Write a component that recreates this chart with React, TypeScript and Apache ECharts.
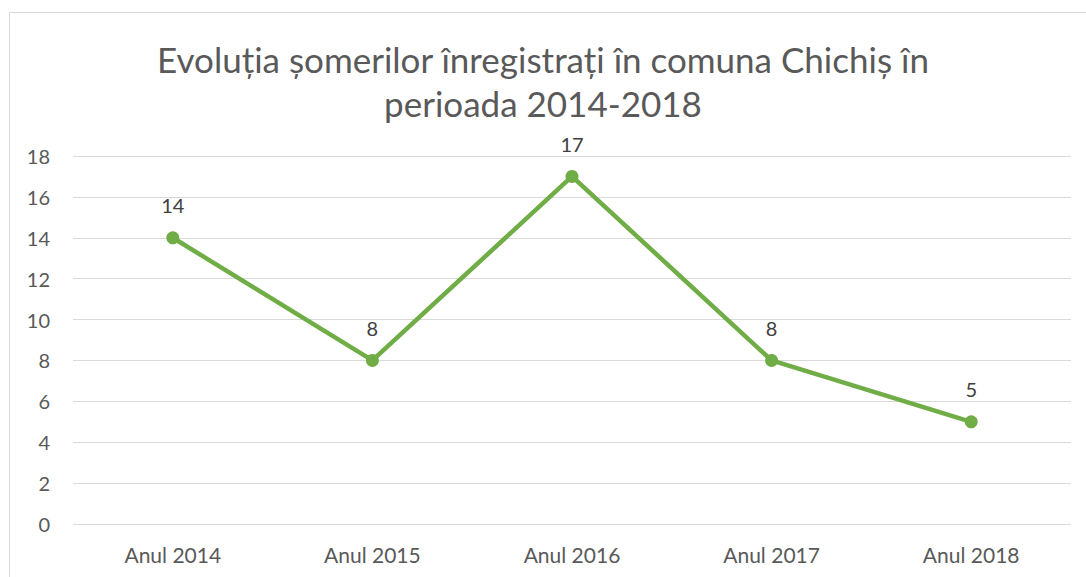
import React, { useEffect, useRef } from "react";
import * as echarts from "echarts";

const categories = ["Anul 2014", "Anul 2015", "Anul 2016", "Anul 2017", "Anul 2018"];
const values = [14, 8, 17, 8, 5];
const titleText = "Evoluția șomerilor înregistrați în comuna Chichiș în\nperioada 2014-2018";

export default function App() {
  const ref = useRef<HTMLDivElement>(null);
  useEffect(() => {
    if (!ref.current) return;
    const chart = echarts.init(ref.current, undefined, { renderer: "svg" });
    const font = "Lato, 'Open Sans', sans-serif";
    chart.setOption({
      animation: false,
      backgroundColor: "#ffffff",
      title: {
        text: titleText,
        left: "center",
        top: 32,
        textStyle: {
          fontFamily: font,
          fontSize: 35,
          fontWeight: "normal",
          color: "#595959",
          lineHeight: 44,
        },
      },
      graphic: [
        {
          type: "rect",
          shape: { x: 9.5, y: 12.5, width: 1100, height: 600 },
          style: { fill: "none", stroke: "#d9d9d9", lineWidth: 1 },
          silent: true,
        },
      ],
      grid: { left: 73, right: 15, top: 156, bottom: 53, containLabel: false },
      xAxis: {
        type: "category",
        data: categories,
        boundaryGap: true,
        axisLine: { show: false },
        axisTick: { show: false },
        axisLabel: { fontFamily: font, fontSize: 21, color: "#595959", margin: 20 },
        splitLine: { show: false },
      },
      yAxis: {
        type: "value",
        min: 0,
        max: 18,
        interval: 2,
        axisLine: { show: false },
        axisTick: { show: false },
        axisLabel: { fontFamily: font, fontSize: 20, color: "#595959", margin: 23 },
        splitLine: { show: true, lineStyle: { color: "#d9d9d9", width: 1 } },
      },
      series: [
        {
          type: "line",
          data: values,
          symbol: "circle",
          symbolSize: 13,
          lineStyle: { color: "#70ad47", width: 4.5 },
          itemStyle: { color: "#70ad47" },
          label: {
            show: true,
            position: "top",
            distance: 16,
            fontFamily: font,
            fontSize: 20,
            color: "#404040",
          },
        },
      ],
    });
    return () => chart.dispose();
  }, []);
  return (
    <div
      ref={ref}
      style={{ position: "fixed", left: 0, top: 0, width: 1086, height: 577 }}
    />
  );
}
